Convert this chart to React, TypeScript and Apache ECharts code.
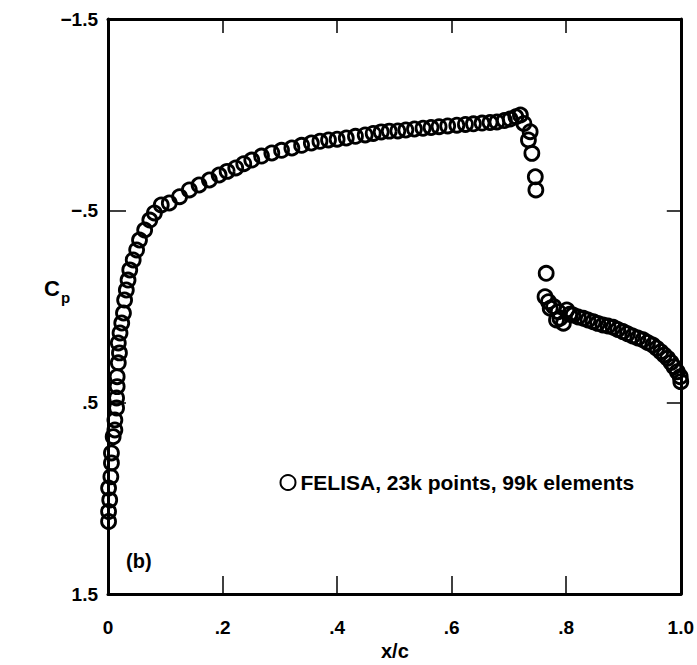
import React, { useEffect, useRef } from "react";
import * as echarts from "echarts";

const xTicks = [0, 0.2, 0.4, 0.6, 0.8, 1.0];
const xTickLabels = ["0", ".2", ".4", ".6", ".8", "1.0"];
const yLabelValues = [-1.5, -0.5, 0.5, 1.5];
const yTickLabels = ["\u22121.5", "\u2212.5", ".5", "1.5"];
const yTickValues = [-0.5, 0.5];
const innerXTicks = [0.2, 0.4, 0.6, 0.8];

const seriesName = "FELISA, 23k points, 99k elements";

const xc = [
  0.001, 0.001, 0.003, 0.001, 0.005, 0.006, 0.006, 0.009, 0.012, 0.012,
  0.015, 0.015, 0.016, 0.016, 0.018, 0.020, 0.018, 0.021, 0.024, 0.027,
  0.029, 0.032, 0.035, 0.038, 0.044, 0.050, 0.055, 0.064, 0.073, 0.081,
  0.093, 0.107, 0.125, 0.142, 0.159, 0.177, 0.194, 0.208, 0.223, 0.237,
  0.251, 0.268, 0.286, 0.303, 0.321, 0.338, 0.355, 0.370, 0.385, 0.400,
  0.416, 0.432, 0.449, 0.463, 0.477, 0.491, 0.506, 0.520, 0.535, 0.550,
  0.564, 0.578, 0.593, 0.609, 0.624, 0.638, 0.653, 0.667, 0.679, 0.692,
  0.702, 0.712, 0.720, 0.726, 0.737, 0.734, 0.740, 0.746, 0.747, 0.765,
  0.763, 0.769, 0.772, 0.778, 0.783, 0.786, 0.789, 0.795, 0.801, 0.806,
  0.812, 0.821, 0.830, 0.838, 0.847, 0.855, 0.864, 0.873, 0.882, 0.890,
  0.899, 0.907, 0.916, 0.925, 0.934, 0.942, 0.951, 0.958, 0.965, 0.971,
  0.977, 0.983, 0.988, 0.994, 0.999, 1.000,
];

const cp = [
  1.122, 1.070, 1.009, 0.947, 0.888, 0.816, 0.764, 0.679, 0.644, 0.592,
  0.529, 0.477, 0.418, 0.366, 0.294, 0.242, 0.190, 0.138, 0.086, 0.034,
  -0.034, -0.086, -0.138, -0.191, -0.243, -0.295, -0.347, -0.399, -0.451, -0.488,
  -0.530, -0.540, -0.573, -0.608, -0.634, -0.660, -0.686, -0.705, -0.723, -0.745,
  -0.764, -0.785, -0.801, -0.815, -0.827, -0.841, -0.853, -0.862, -0.869, -0.873,
  -0.879, -0.888, -0.895, -0.903, -0.911, -0.915, -0.916, -0.921, -0.926, -0.930,
  -0.934, -0.938, -0.942, -0.946, -0.950, -0.953, -0.957, -0.960, -0.963, -0.970,
  -0.978, -0.990, -0.999, -0.955, -0.912, -0.869, -0.799, -0.677, -0.608, -0.173,
  -0.051, -0.025, 0.009, 0.000, 0.070, 0.027, 0.061, 0.087, 0.018, 0.040,
  0.044, 0.055, 0.061, 0.070, 0.079, 0.088, 0.096, 0.102, 0.108, 0.120,
  0.131, 0.142, 0.154, 0.164, 0.174, 0.188, 0.201, 0.218, 0.236, 0.253,
  0.270, 0.292, 0.314, 0.340, 0.366, 0.392,
];

const FONT = "'Liberation Sans', Arial, sans-serif";

export default function App() {
  const ref = useRef<HTMLDivElement>(null);
  useEffect(() => {
    if (!ref.current) return;
    const chart = echarts.init(ref.current, null, { renderer: "svg" });
    const data = xc.map((x, i) => [x, cp[i]]);
    const lineStyle = { color: "#000", width: 3 };
    const tickStyle = { color: "#000", width: 1.5 };
    const labelStyle = { color: "#000", fontFamily: FONT, fontWeight: "bold" as const, fontSize: 19 };
    chart.setOption({
      animation: false,
      backgroundColor: "#fff",
      grid: { left: 108, right: 12, top: 19, bottom: 71, containLabel: false },
      xAxis: [
        {
          type: "value",
          position: "bottom",
          min: 0,
          max: 1,
          interval: 0.2,
          axisLine: { show: true, onZero: false, lineStyle },
          axisTick: { show: true, inside: true, length: 18, lineStyle: tickStyle, customValues: innerXTicks },
          axisLabel: {
            ...labelStyle,
            margin: 24,
            showMinLabel: true,
            showMaxLabel: true,
            customValues: xTicks,
            formatter: (v: number) => {
              const i = xTicks.findIndex((t) => Math.abs(t - v) < 1e-6);
              return i >= 0 ? xTickLabels[i] : "";
            },
          },
          splitLine: { show: false },
        },
        {
          type: "value",
          position: "top",
          min: 0,
          max: 1,
          interval: 0.2,
          axisLine: { show: true, onZero: false, lineStyle },
          axisTick: { show: true, inside: true, length: 14, lineStyle: tickStyle, customValues: innerXTicks },
          axisLabel: { show: false },
          splitLine: { show: false },
        },
      ],
      yAxis: [
        {
          type: "value",
          position: "left",
          inverse: true,
          min: -1.5,
          max: 1.5,
          axisLine: { show: true, onZero: false, lineStyle },
          axisTick: { show: true, inside: true, length: 18, lineStyle: tickStyle, customValues: yTickValues },
          axisLabel: {
            ...labelStyle,
            margin: 10,
            showMinLabel: true,
            showMaxLabel: true,
            customValues: yLabelValues,
            formatter: (v: number) => {
              const i = yLabelValues.findIndex((t) => Math.abs(t - v) < 1e-6);
              return i >= 0 ? yTickLabels[i] : "";
            },
          },
          splitLine: { show: false },
        },
        {
          type: "value",
          position: "right",
          inverse: true,
          min: -1.5,
          max: 1.5,
          axisLine: { show: true, onZero: false, lineStyle },
          axisTick: { show: true, inside: true, length: 14, lineStyle: tickStyle, customValues: yTickValues },
          axisLabel: { show: false },
          splitLine: { show: false },
        },
      ],
      legend: {
        show: true,
        left: 273,
        top: 467,
        icon: "circle",
        itemWidth: 15,
        itemHeight: 15,
        textStyle: { color: "#000", fontFamily: FONT, fontWeight: "bold", fontSize: 21 },
        data: [seriesName],
      },
      series: [
        {
          name: seriesName,
          type: "scatter",
          xAxisIndex: 0,
          yAxisIndex: 0,
          symbol: "circle",
          symbolSize: 14,
          itemStyle: { color: "none", borderColor: "#000", borderWidth: 2.8, opacity: 1 },
          data,
        },
      ],
      graphic: [
        {
          type: "text",
          left: 381,
          top: 641,
          style: { text: "x/c", fill: "#000", font: `bold 20px ${FONT}` },
        },
        {
          type: "text",
          left: 44,
          top: 277,
          style: { text: "C", fill: "#000", font: `bold 22px ${FONT}` },
        },
        {
          type: "text",
          left: 61,
          top: 290,
          style: { text: "p", fill: "#000", font: `bold 15px ${FONT}` },
        },
        {
          type: "text",
          left: 126,
          top: 551,
          style: { text: "(b)", fill: "#000", font: `bold 20px ${FONT}` },
        },
      ],
    });
    return () => chart.dispose();
  }, []);
  return (
    <div
      ref={ref}
      style={{ position: "fixed", left: 0, top: 0, width: 697, height: 665, background: "#fff" }}
    />
  );
}
